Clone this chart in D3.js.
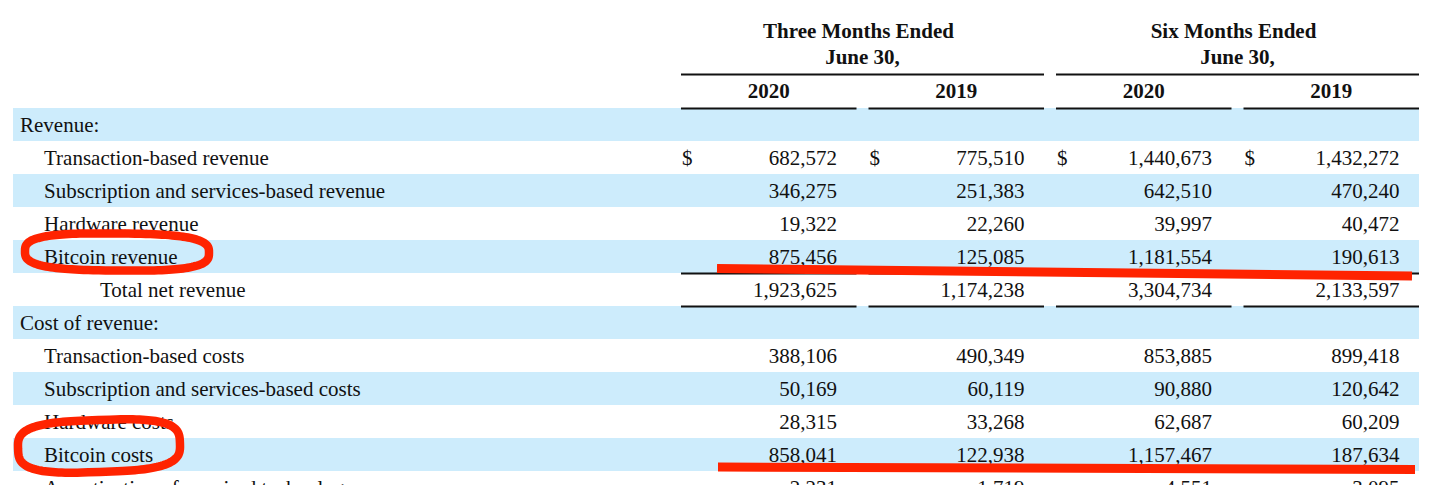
<!DOCTYPE html>
<html>
<head>
<meta charset="utf-8">
<script src="https://cdn.jsdelivr.net/npm/d3@7"></script>
<style>
  body { margin: 0; background: #fff; overflow: hidden; }
  text { font-family: "Liberation Serif", "Times New Roman", serif; fill: #111; }
</style>
</head>
<body>
<div id="vis"><svg></svg></div>
<script>
// row labels of the statement
var labels = ["Revenue:", "Transaction-based revenue", "Subscription and services-based revenue",
  "Hardware revenue", "Bitcoin revenue", "Total net revenue", "Cost of revenue:",
  "Transaction-based costs", "Subscription and services-based costs", "Hardware costs",
  "Bitcoin costs", "Amortization of acquired technology"];
var indent = [0, 1, 1, 1, 1, 2, 0, 1, 1, 1, 1, 1];

// header texts
var groups = ["Three Months Ended", "Six Months Ended"];
var years = ["2020", "2019", "2020", "2019"];

// values, thousands of dollars (null = heading row)
var q2020 = [null, 682572, 346275, 19322, 875456, 1923625, null, 388106, 50169, 28315, 858041, 2231];
var q2019 = [null, 775510, 251383, 22260, 125085, 1174238, null, 490349, 60119, 33268, 122938, 1719];
var h2020 = [null, 1440673, 642510, 39997, 1181554, 3304734, null, 853885, 90880, 62687, 1157467, 4551];
var h2019 = [null, 1432272, 470240, 40472, 190613, 2133597, null, 899418, 120642, 60209, 187634, 3095];
var dollarRows = [1];
var ruleRows = [4, 5];      // rule under these rows
var circled = [4, 10];      // red marks

var width = 1439, height = 485;
var svg = d3.select("#vis").select("svg")
    .attr("width", width)
    .attr("height", height);

var cols = [q2020, q2019, h2020, h2019];

var y = d3.scaleBand()
    .domain(d3.range(labels.length))
    .range([108, 108 + 33 * labels.length]);

var x = d3.scaleBand()
    .domain(d3.range(4))
    .range([681, 1419])
    .paddingInner(0.064);

var fmt = d3.format(",");

// stripes
svg.append("g").selectAll("rect")
    .data(d3.range(labels.length).filter(function(i){ return i % 2 == 0; }))
    .join("rect")
    .attr("x", 13)
    .attr("y", function(i){ return y(i); })
    .attr("width", 1419 - 13)
    .attr("height", y.bandwidth())
    .attr("fill", "#cdecfc");

// header
var gx = [ [x(0), x(1) + x.bandwidth()], [x(2), x(3) + x.bandwidth()] ];
var head = svg.append("g").attr("font-weight", "bold").attr("font-size", "21px");
groups.forEach(function(g, k){
    var c = (gx[k][0] + gx[k][1]) / 2;
    head.append("text").attr("x", c - 4).attr("y", 38).attr("text-anchor", "middle")
        .style("font-weight", "bold").text(g);
    head.append("text").attr("x", c).attr("y", 64).attr("text-anchor", "middle")
        .style("font-weight", "bold").text("June 30,");
    svg.append("line")
        .attr("x1", gx[k][0]).attr("x2", gx[k][1])
        .attr("y1", 74.5).attr("y2", 74.5)
        .attr("stroke", "#111").attr("stroke-width", 1.8);
});
years.forEach(function(yr, j){
    head.append("text").attr("x", x(j) + x.bandwidth() / 2).attr("y", 98)
        .attr("text-anchor", "middle").style("font-weight", "bold").text(yr);
    svg.append("line")
        .attr("x1", x(j)).attr("x2", x(j) + x.bandwidth())
        .attr("y1", 108.5).attr("y2", 108.5)
        .attr("stroke", "#111").attr("stroke-width", 1.8);
});

// labels
svg.append("g").selectAll("text")
    .data(labels)
    .join("text")
    .attr("x", function(d, i){ return [20, 44, 100][indent[i]]; })
    .attr("y", function(d, i){ return y(i) + 24; })
    .attr("font-size", "21px")
    .text(function(d){ return d; });

// numbers
cols.forEach(function(col, j){
    var g = svg.append("g").attr("font-size", "21px");
    g.selectAll("text.v")
        .data(col.map(function(v, i){ return {v: v, i: i}; }).filter(function(d){ return d.v != null; }))
        .join("text")
        .attr("class", "v")
        .attr("x", x(j) + x.bandwidth() - 19.5)
        .attr("y", function(d){ return y(d.i) + 24; })
        .attr("text-anchor", "end")
        .text(function(d){ return fmt(d.v); });
    g.selectAll("text.d")
        .data(dollarRows)
        .join("text")
        .attr("class", "d")
        .attr("x", x(j) + 1)
        .attr("y", function(i){ return y(i) + 24; })
        .text("$");
    ruleRows.forEach(function(r){
        svg.append("line")
            .attr("x1", x(j)).attr("x2", x(j) + x.bandwidth())
            .attr("y1", y(r) + y.bandwidth() + 0.5).attr("y2", y(r) + y.bandwidth() + 0.5)
            .attr("stroke", "#111").attr("stroke-width", 1.8);
    });
});

// red hand marks (boxy loop round the label, stroke under the numbers)
var red = "#ff2300";
var marks = [
    {cx: 117, dy: -4.5, a: 92, b: 18.5, n: 3, rot: 0.5, x1: 717, y1: 268.5, x2: 1412, y2: 276},
    {cx: 99, dy: -8.5, a: 81, b: 26, n: 3.2, rot: -2, x1: 718, y1: 467, x2: 1415, y2: 469.5}
];
function loop(a, b, n) {
    return d3.range(0, 2 * Math.PI, Math.PI / 72).map(function(t){
        var c = Math.cos(t), s = Math.sin(t);
        return [a * Math.sign(c) * Math.pow(Math.abs(c), 2 / n),
                b * Math.sign(s) * Math.pow(Math.abs(s), 2 / n)];
    });
}
var line = d3.line().curve(d3.curveLinearClosed);
circled.forEach(function(r, k){
    var m = marks[k];
    var cy = y(r) + y.bandwidth() / 2 + m.dy;
    svg.append("path")
        .attr("d", line(loop(m.a, m.b, m.n)))
        .attr("transform", "translate(" + m.cx + "," + cy + ") rotate(" + m.rot + ")")
        .attr("fill", "none")
        .attr("stroke", red)
        .attr("stroke-width", 8.5);
    svg.append("line")
        .attr("x1", m.x1).attr("y1", m.y1)
        .attr("x2", m.x2).attr("y2", m.y2)
        .attr("stroke", red)
        .attr("stroke-width", 9);
});
</script>
</body>
</html>
